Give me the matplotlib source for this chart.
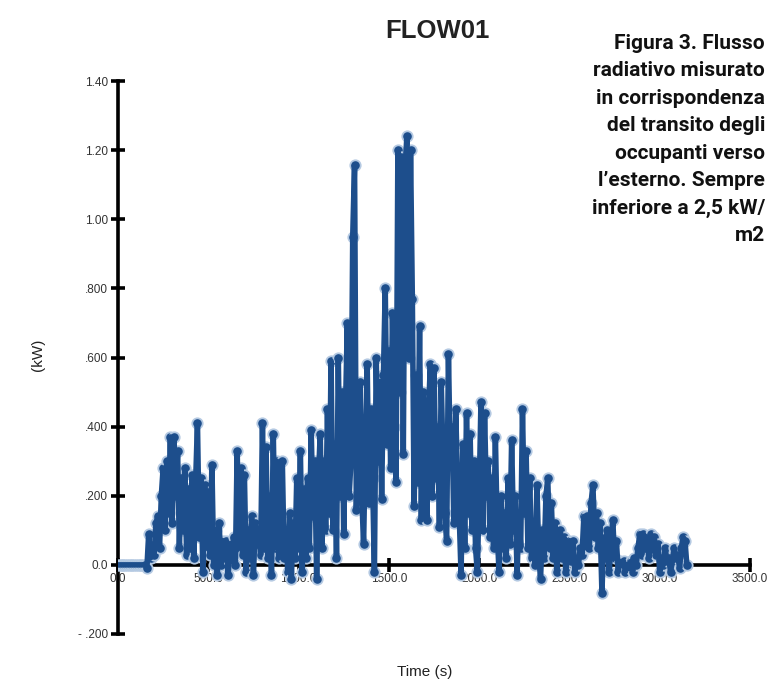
import numpy as np
import matplotlib
matplotlib.use("Agg")
import matplotlib.pyplot as plt

# ---- data ----
dt = 10.0  # sampling step in seconds
flow_kw = [
    # 0-90
    0, 0, 0, 0, 0, 0, 0, 0, 0, 0,
    # 100-190
    0, 0, 0, 0, 0, 0, -0.01, 0.09, 0.02, 0.05,
    # 200-290
    0.03, 0.12, 0.14, 0.05, 0.20, 0.28, 0.10, 0.30, 0.15, 0.37,
    # 300-390
    0.12, 0.37, 0.20, 0.33, 0.05, 0.25, 0.10, 0.28, 0.03, 0.22,
    # 400-490
    0.05, 0.26, 0.02, 0.24, 0.41, 0.08, 0.25, -0.02, 0.23, 0.05,
    # 500-590
    0.21, 0.03, 0.29, 0.0, 0.10, -0.03, 0.12, 0.0, 0.07, 0.02,
    # 600-690
    0.07, -0.03, 0.06, 0.01, 0.08, 0.0, 0.33, 0.05, 0.28, 0.03,
    # 700-790
    0.26, -0.02, 0.10, 0.02, 0.14, -0.03, 0.12, 0.06, 0.10, 0.03,
    # 800-890
    0.41, 0.05, 0.34, 0.02, 0.20, -0.03, 0.38, 0.05, 0.30, 0.02,
    # 900-990
    0.05, 0.30, 0.02, 0.10, -0.02, 0.15, -0.04, 0.12, 0.02, 0.25,
    # 1000-1090
    0.05, 0.33, -0.02, 0.22, 0.02, 0.25, 0.05, 0.39, 0.14, 0.30,
    # 1100-1190
    -0.04, 0.25, 0.38, 0.05, 0.30, 0.10, 0.45, 0.15, 0.59, 0.10,
    # 1200-1290
    0.35, 0.02, 0.60, 0.20, 0.50, 0.09, 0.45, 0.70, 0.20, 0.30,
    # 1300-1390
    0.95, 1.157, 0.16, 0.40, 0.53, 0.20, 0.06, 0.35, 0.58, 0.18,
    # 1400-1490
    0.45, 0.25, -0.02, 0.60, 0.30, 0.53, 0.19, 0.55, 0.80, 0.35,
    # 1500-1590
    0.62, 0.28, 0.73, 0.40, 0.24, 1.20, 0.50, 1.18, 0.32, 1.15,
    # 1600-1690
    1.24, 0.60, 1.20, 0.77, 0.17, 0.55, 0.24, 0.69, 0.13, 0.50,
    # 1700-1790
    0.40, 0.13, 0.45, 0.58, 0.20, 0.57, 0.25, 0.40, 0.11, 0.53,
    # 1800-1890
    0.30, 0.15, 0.07, 0.61, 0.30, 0.40, 0.12, 0.45, 0.25, 0.14,
    # 1900-1990
    -0.03, 0.35, 0.05, 0.44, 0.15, 0.38, 0.10, 0.30, 0.05, -0.02,
    # 2000-2090
    0.20, 0.47, 0.10, 0.44, 0.20, 0.30, 0.08, 0.25, 0.05, 0.37,
    # 2100-2190
    0.10, -0.02, 0.20, 0.05, 0.15, 0.02, 0.25, 0.06, 0.36, 0.10,
    # 2200-2290
    0.20, -0.03, 0.15, 0.05, 0.45, 0.15, 0.33, 0.05, 0.25, 0.02,
    # 2300-2390
    0.12, 0.0, 0.23, 0.03, -0.04, 0.10, 0.02, 0.20, 0.25, 0.05,
    # 2400-2490
    0.18, 0.02, 0.12, -0.02, 0.05, 0.10, 0.02, 0.08, -0.02, 0.03,
    # 2500-2590
    0.07, 0.01, 0.07, -0.02, 0.02, 0.0, 0.05, 0.03, 0.14, 0.05,
    # 2600-2690
    0.14, 0.05, 0.18, 0.23, 0.08, 0.15, 0.05, 0.12, -0.08, 0.08,
    # 2700-2790
    0.02, 0.10, -0.02, 0.05, 0.13, 0.02, 0.07, -0.02, 0.01, 0.0,
    # 2800-2890
    0.01, -0.02, 0.0, -0.01, 0.01, -0.02, 0.02, 0.0, 0.05, 0.09,
    # 2900-2990
    0.03, 0.09, 0.05, 0.08, 0.02, 0.09, 0.04, 0.08, 0.03, 0.06,
    # 3000-3150
    -0.02, 0.02, 0.0, 0.05, 0.01, 0.02, -0.02, 0.01, 0.05, 0.02,
    0.03, -0.01, 0.05, 0.08, 0.07, 0.0,
]
time_s = np.arange(len(flow_kw)) * dt

y_ticks = [-0.2, 0.0, 0.2, 0.4, 0.6, 0.8, 1.0, 1.2, 1.4]
y_tick_labels = ["- .200", "0.0", ".200", ".400", ".600", ".800", "1.00", "1.20", "1.40"]
x_ticks = [0, 500, 1000, 1500, 2000, 2500, 3000, 3500]
x_tick_labels = ["0.0", "500.0", "1000.0", "1500.0", "2000.0", "2500.0", "3000.0", "3500.0"]

title = "FLOW01"
x_label = "Time (s)"
y_label = "(kW)"
caption = ("Figura 3. Flusso\nradiativo misurato\nin corrispondenza\ndel transito degli\n"
           "occupanti verso\nl\u2019esterno. Sempre\ninferiore a 2,5 kW/\nm2")

# ---- figure ----
W, H = 779, 684
fig = plt.figure(figsize=(W / 100, H / 100), dpi=100)
ax = fig.add_axes([118 / W, 1 - 634 / H, (750 - 118) / W, (634 - 81) / H])

blue = "#1d4e8c"
# markers beneath, line on top -> caps visible at spike ends only
ax.plot(time_s, flow_kw, ls="none", marker="o", ms=7.5, mfc=blue,
        mec="#b4c9e2", mew=1.3, zorder=3)
ax.plot(time_s, flow_kw, color=blue, lw=4.0, solid_joinstyle="round",
        solid_capstyle="round", zorder=4)

ax.set_xlim(0, 3500)
ax.set_ylim(-0.2, 1.4)
ax.spines["top"].set_visible(False)
ax.spines["right"].set_visible(False)
ax.spines["bottom"].set_position(("data", 0))
ax.spines["left"].set_position(("data", 0))
for s in ("bottom", "left"):
    ax.spines[s].set_linewidth(2.6)
    ax.spines[s].set_zorder(2)

ax.set_yticks(y_ticks)
ax.set_yticklabels(y_tick_labels)
ax.set_xticks(x_ticks)
ax.set_xticklabels(x_tick_labels)
ax.tick_params(axis="both", direction="inout", length=10, width=2.6,
               labelsize=8.5, labelcolor="#333333")
ax.tick_params(axis="y", pad=2)
ax.tick_params(axis="x", pad=1)
for lab in ax.get_xticklabels() + ax.get_yticklabels():
    lab.set_family("Liberation Sans")

fig.text(437 / W, 1 - 31 / H, title, ha="center", va="center",
         fontsize=18.5, fontweight="bold", family="Liberation Sans", color="#222222")
fig.text(425 / W, 1 - 672 / H, x_label, ha="center", va="center",
         fontsize=11, family="Liberation Sans", color="#222222")
fig.text(38 / W, 1 - 355 / H, y_label, ha="center", va="center", rotation=90,
         fontsize=11, family="Liberation Sans", color="#222222")
fig.text(765 / W, 1 - 34 / H, caption, ha="right", va="top",
         fontsize=15, fontweight="bold", family="Roboto", color="#111111",
         linespacing=1.56)

fig.savefig("out.png", dpi=100)
